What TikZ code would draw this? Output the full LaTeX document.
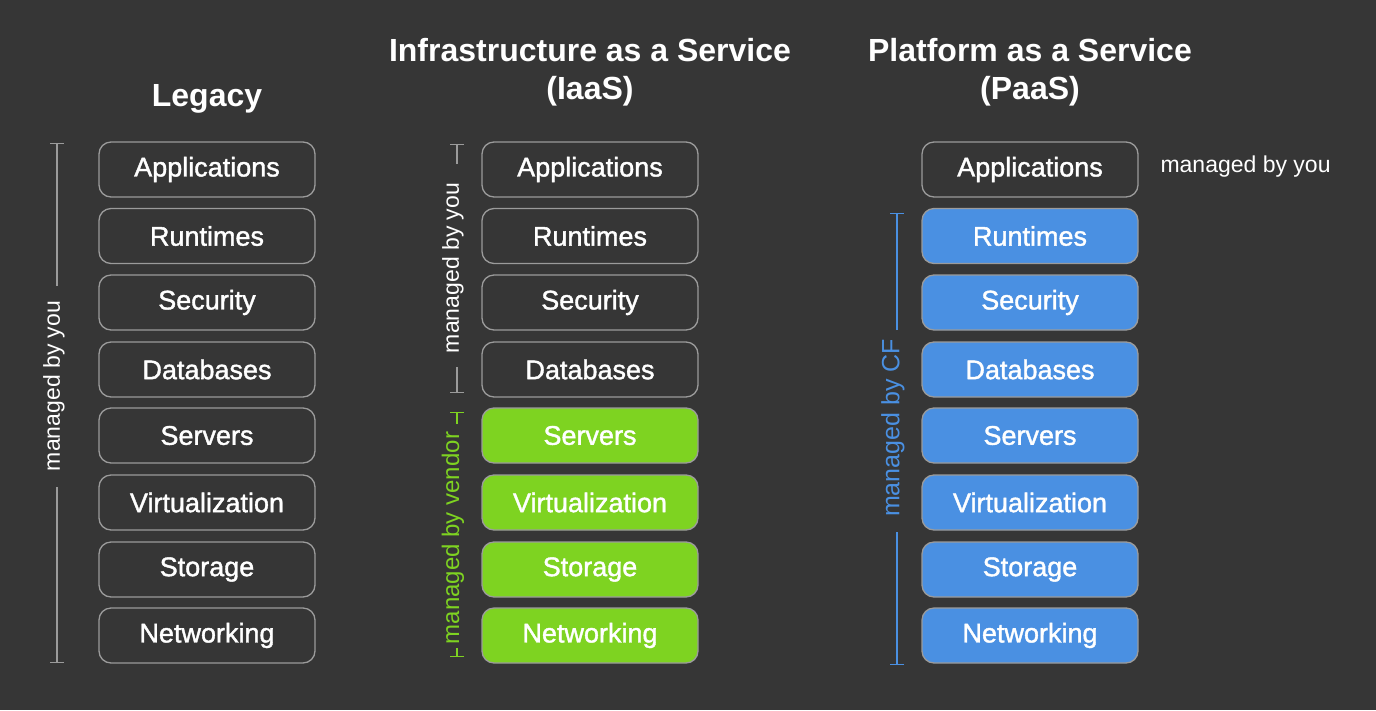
\documentclass[tikz,border=0pt]{standalone}
\usepackage{fontspec}
\setmainfont{Liberation Sans}
\newfontface\boxfont{Liberation Sans}[FakeBold=1.4]
\usetikzlibrary{arrows.meta}
\definecolor{bg}{HTML}{363636}
\definecolor{edge}{HTML}{9B9B9B}
\definecolor{vgreen}{HTML}{7ED321}
\definecolor{cfblue}{HTML}{4A90E2}
\tikzset{
  layer/.style={draw=edge, line width=1.3pt, rounded corners=12pt, minimum width=216pt, minimum height=55pt, text=white, font=\boxfont\fontsize{27}{30}\selectfont, inner sep=0pt},
  plain/.style={layer, fill=bg},
  vendorbox/.style={layer, fill=vgreen},
  cfbox/.style={layer, fill=cfblue},
  title/.style={text=white, font=\fontsize{32}{38}\selectfont\bfseries, align=center},
  bracket/.style={line width=1.3pt, -{Bar[width=14pt,line width=1.3pt]}},
  bracketlabel/.style={rotate=90, inner sep=0pt, font=\fontsize{23}{26}\selectfont}
}
\begin{document}
\begin{tikzpicture}[x=1pt,y=-1pt]
\fill[bg] (0,0) rectangle (1376,710);
\useasboundingbox (0,0) rectangle (1376,710);

% titles
\node[title] (tleg) at (207,99) {Legacy};
\node[title] (tiaas) at (590,72) {Infrastructure as a Service\\(IaaS)};
\node[title] (tpaas) at (1030,72) {Platform as a Service\\(PaaS)};

% Legacy column
\node[plain] (l1) at (207,169.5) {Applications};
\node[plain] (l2) at (207,236) {Runtimes};
\node[plain] (l3) at (207,302.5) {Security};
\node[plain] (l4) at (207,369.5) {Databases};
\node[plain] (l5) at (207,435.5) {Servers};
\node[plain] (l6) at (207,502.5) {Virtualization};
\node[plain] (l7) at (207,569.5) {Storage};
\node[plain] (l8) at (207,635.5) {Networking};

% IaaS column
\node[plain] (i1) at (590,169.5) {Applications};
\node[plain] (i2) at (590,236) {Runtimes};
\node[plain] (i3) at (590,302.5) {Security};
\node[plain] (i4) at (590,369.5) {Databases};
\node[vendorbox] (i5) at (590,435.5) {Servers};
\node[vendorbox] (i6) at (590,502.5) {Virtualization};
\node[vendorbox] (i7) at (590,569.5) {Storage};
\node[vendorbox] (i8) at (590,635.5) {Networking};

% PaaS column
\node[plain] (p1) at (1030,169.5) {Applications};
\node[cfbox] (p2) at (1030,236) {Runtimes};
\node[cfbox] (p3) at (1030,302.5) {Security};
\node[cfbox] (p4) at (1030,369.5) {Databases};
\node[cfbox] (p5) at (1030,435.5) {Servers};
\node[cfbox] (p6) at (1030,502.5) {Virtualization};
\node[cfbox] (p7) at (1030,569.5) {Storage};
\node[cfbox] (p8) at (1030,635.5) {Networking};

\node[text=white, font=\fontsize{23}{26}\selectfont, anchor=west] (pyou) at (1157,167) {managed by you};

% Legacy bracket
\coordinate (lt) at (57,143);
\coordinate (lb) at (57,663);
\coordinate (lgt) at (57,286);
\coordinate (lgb) at (57,487);
\node[bracketlabel, text=white] (lyou) at (54,386) {managed by you};
\draw[bracket, edge] (lgt) -- (lt);
\draw[bracket, edge] (lgb) -- (lb);

% IaaS you bracket
\coordinate (iyt) at (457,144);
\coordinate (iyb) at (457,393);
\coordinate (iygt) at (457,164);
\coordinate (iygb) at (457,367);
\node[bracketlabel, text=white] (iyou) at (453,268) {managed by you};
\draw[bracket, edge] (iygt) -- (iyt);
\draw[bracket, edge] (iygb) -- (iyb);

% IaaS vendor bracket
\coordinate (ivt) at (457,412);
\coordinate (ivb) at (457,657);
\coordinate (ivgt) at (457,424);
\coordinate (ivgb) at (457,648);
\node[bracketlabel, text=vgreen, font=\fontsize{24}{28}\selectfont] (ivend) at (453,538) {managed by vendor};
\draw[bracket, vgreen] (ivgt) -- (ivt);
\draw[bracket, vgreen] (ivgb) -- (ivb);

% PaaS CF bracket
\coordinate (pct) at (897,213);
\coordinate (pcb) at (897,665);
\coordinate (pcgt) at (897,330);
\coordinate (pcgb) at (897,532);
\node[bracketlabel, text=cfblue, font=\fontsize{25}{28}\selectfont] (pcf) at (893,428) {managed by CF};
\draw[bracket, cfblue] (pcgt) -- (pct);
\draw[bracket, cfblue] (pcgb) -- (pcb);
\end{tikzpicture}
\end{document}
